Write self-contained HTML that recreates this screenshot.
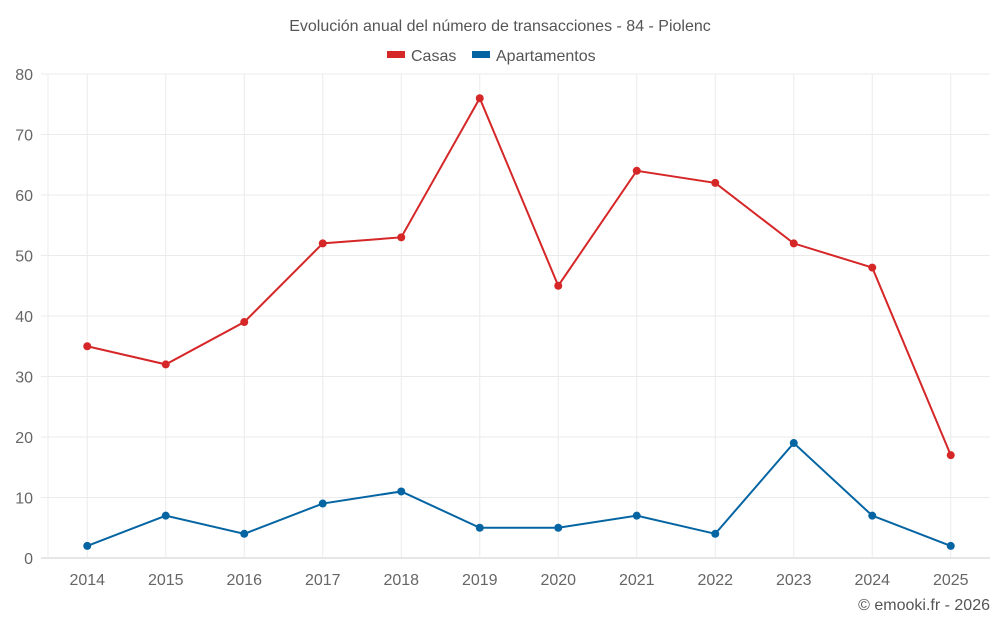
<!DOCTYPE html>
<html><head><meta charset="utf-8"><style>
body{margin:0;background:#fff;font-family:"Liberation Sans",sans-serif}
text{font-family:"Liberation Sans",sans-serif}
</style></head><body>
<svg width="1000" height="625" id="chart">
<text x="500" y="31" text-anchor="middle" font-size="16" fill="#555">Evolución anual del número de transacciones - 84 - Piolenc</text>
<g>
<g><rect x="387" y="51" width="18" height="7" fill="#d62728"/><text x="411" y="61" font-size="16" fill="#555">Casas</text></g>
<g><rect x="472" y="51" width="18" height="7" fill="#0565a3"/><text x="496" y="61" font-size="16" fill="#555">Apartamentos</text></g>
</g>
<g id="grid"></g>
<g id="axes"></g>
<g id="series"></g>
<text x="990" y="610" text-anchor="end" font-size="16" fill="#555">© emooki.fr - 2026</text>
</svg>
<script>
const years=["2014","2015","2016","2017","2018","2019","2020","2021","2022","2023","2024","2025"];
const casas=[35,32,39,52,53,76,45,64,62,52,48,17];
const apartamentos=[2,7,4,9,11,5,5,7,4,19,7,2];
const yTicks=[0,10,20,30,40,50,60,70,80];
const NS="http://www.w3.org/2000/svg";
const L=48,R=990,T=74,B=558;
const step=(R-L)/years.length;
const x=i=>L+step*(i+0.5);
const y=v=>B-(v/80)*(B-T);
function mk(tag,attrs,parent){const e=document.createElementNS(NS,tag);for(const k in attrs)e.setAttribute(k,attrs[k]);parent.appendChild(e);return e;}
const grid=document.getElementById('grid'),axes=document.getElementById('axes'),series=document.getElementById('series');
yTicks.forEach(t=>{
 const l=mk('line',{x1:41,x2:R,y1:y(t),y2:y(t),stroke:t===0?'#ccc':'#ebebeb','stroke-width':1},grid);
 
 
 const tx=mk('text',{x:33,y:y(t)+6,'text-anchor':'end','font-size':16,fill:'#666'},axes);
 tx.textContent=t;
 
 
});
mk('line',{x1:L,x2:L,y1:T,y2:B,stroke:'#ebebeb'},grid);
years.forEach((yr,i)=>{
 const l=mk('line',{x1:x(i),x2:x(i),y1:T,y2:B,stroke:'#ebebeb'},grid);
 
 
 const tx=mk('text',{x:x(i),y:585,'text-anchor':'middle','font-size':16,fill:'#666'},axes);
 tx.textContent=yr;
 
 
});
function draw(data,color,name){
 const p=mk('polyline',{points:data.map((v,i)=>x(i)+','+y(v)).join(' '),fill:'none',stroke:color,'stroke-width':2},series);
 
 
 data.forEach((v,i)=>{
  const c=mk('circle',{cx:x(i),cy:y(v),r:4,fill:color},series);
  
  
 });
}
draw(casas,'#d62728','casas');
draw(apartamentos,'#0565a3','apartamentos');
</script>
</body></html>
